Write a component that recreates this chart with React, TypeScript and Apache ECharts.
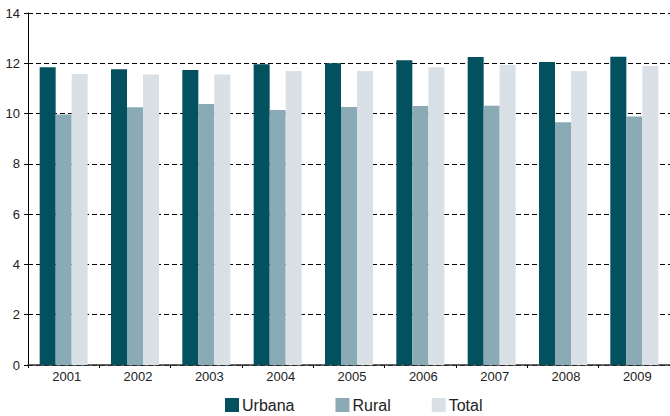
import React, { useEffect, useRef } from "react";
import * as echarts from "echarts";

const categories = ["2001", "2002", "2003", "2004", "2005", "2006", "2007", "2008", "2009"];
const urbana = [11.84, 11.76, 11.73, 11.96, 12.0, 12.12, 12.25, 12.05, 12.26];
const rural = [9.96, 10.25, 10.38, 10.14, 10.26, 10.3, 10.31, 9.65, 9.88];
const total = [11.57, 11.55, 11.55, 11.69, 11.69, 11.84, 11.93, 11.69, 11.89];
const seriesNames = ["Urbana", "Rural", "Total"];
const colors = ["#03505e", "#8aaab5", "#d9e1e7"];

export default function App() {
  const ref = useRef<HTMLDivElement>(null);
  useEffect(() => {
    if (!ref.current) return;
    const chart = echarts.init(ref.current, null, { renderer: "svg" });
    const data = [urbana, rural, total];
    chart.setOption({
      animation: false,
      textStyle: { fontFamily: "Liberation Sans, Arial, sans-serif" },
      grid: { left: 28, top: 13, height: 352, width: 648, containLabel: false },
      legend: {
        bottom: -2,
        left: 220,
        itemWidth: 14,
        itemHeight: 14,
        itemGap: 41,
        icon: "rect",
        textStyle: { fontSize: 16, color: "#222", padding: [0, 0, 0, -2] },
        data: seriesNames,
      },
      xAxis: {
        type: "category",
        data: categories,
        axisLine: { lineStyle: { color: "#333", width: 1.5 } },
        axisTick: { show: true, length: 3, lineStyle: { color: "#000" } },
        axisLabel: { fontSize: 13, color: "#222", margin: 5, padding: [0, 0, 0, 6] },
      },
      yAxis: {
        type: "value",
        min: 0,
        max: 14,
        interval: 2,
        axisLine: { show: true, lineStyle: { color: "#000", width: 1 } },
        axisTick: { show: true, length: 4, lineStyle: { color: "#000" } },
        axisLabel: { fontSize: 13, color: "#222", margin: 8 },
        splitLine: { show: true, lineStyle: { color: "#000", type: [5, 3], width: 1 } },
      },
      series: seriesNames.map((name, i) => ({
        name,
        type: "bar",
        data: data[i],
        barWidth: 16,
        barGap: "0%",
        itemStyle: { color: colors[i] },
      })),
    });
    return () => chart.dispose();
  }, []);
  return (
    <div
      ref={ref}
      style={{ position: "fixed", left: 0, top: 0, width: 670, height: 416, background: "#fff" }}
    />
  );
}
